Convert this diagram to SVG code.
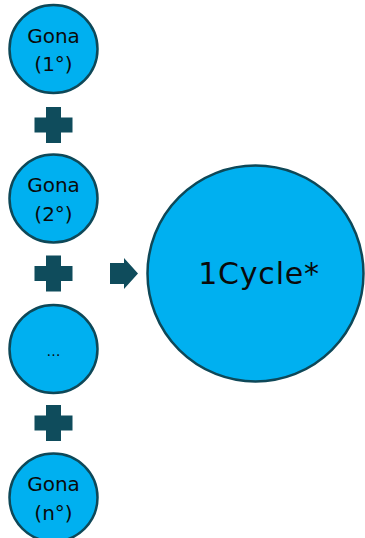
<svg xmlns="http://www.w3.org/2000/svg" width="365" height="538" viewBox="0 0 365 538">
<style>
.node{fill:#00b0f0;stroke:#0e4858;stroke-width:2.5}
.lbl{font-family:"DejaVu Sans",Verdana,sans-serif;font-size:20px;fill:#0a0a0a;text-anchor:middle}
.big{font-family:"DejaVu Sans",Verdana,sans-serif;font-size:30px;fill:#0a0a0a;text-anchor:middle;letter-spacing:0.8px}
.op{fill:#0f4c5c}
</style>
<defs>
<path id="plus" d="M-7.5,-18 H7.5 V-7.5 H19 V7.5 H7.5 V18 H-7.5 V7.5 H-19 V-7.5 H-7.5 Z"/>
</defs>
<rect width="365" height="538" fill="#ffffff"/>
<g id="gona1">
<circle class="node" cx="53.5" cy="49" r="44"/>
<text class="lbl" x="53.5" y="43">Gona</text>
<text class="lbl" x="53.5" y="71">(1°)</text>
</g>
<g id="gona2">
<circle class="node" cx="53.5" cy="198.5" r="44"/>
<text class="lbl" x="53.5" y="192">Gona</text>
<text class="lbl" x="53.5" y="221">(2°)</text>
</g>
<g id="ellipsis">
<circle class="node" cx="53.5" cy="349" r="44"/>
<text class="lbl" x="53.5" y="356" style="font-size:14px">…</text>
</g>
<g id="gonan">
<circle class="node" cx="53.5" cy="497.5" r="44"/>
<text class="lbl" x="53.5" y="491">Gona</text>
<text class="lbl" x="53.5" y="520">(n°)</text>
</g>
<g id="cycle">
<circle class="node" cx="255.5" cy="273.5" r="108"/>
<text class="big" x="259" y="283.5">1Cycle*</text>
</g>
<g id="connectors">
<use href="#plus" class="op" x="53.5" y="125"/>
<use href="#plus" class="op" x="53.5" y="273.5"/>
<use href="#plus" class="op" x="53.5" y="423"/>
<path class="op" d="M110,263 H124 V258 L138,273.5 L124,289 V284 H110 Z"/>
</g>
</svg>
